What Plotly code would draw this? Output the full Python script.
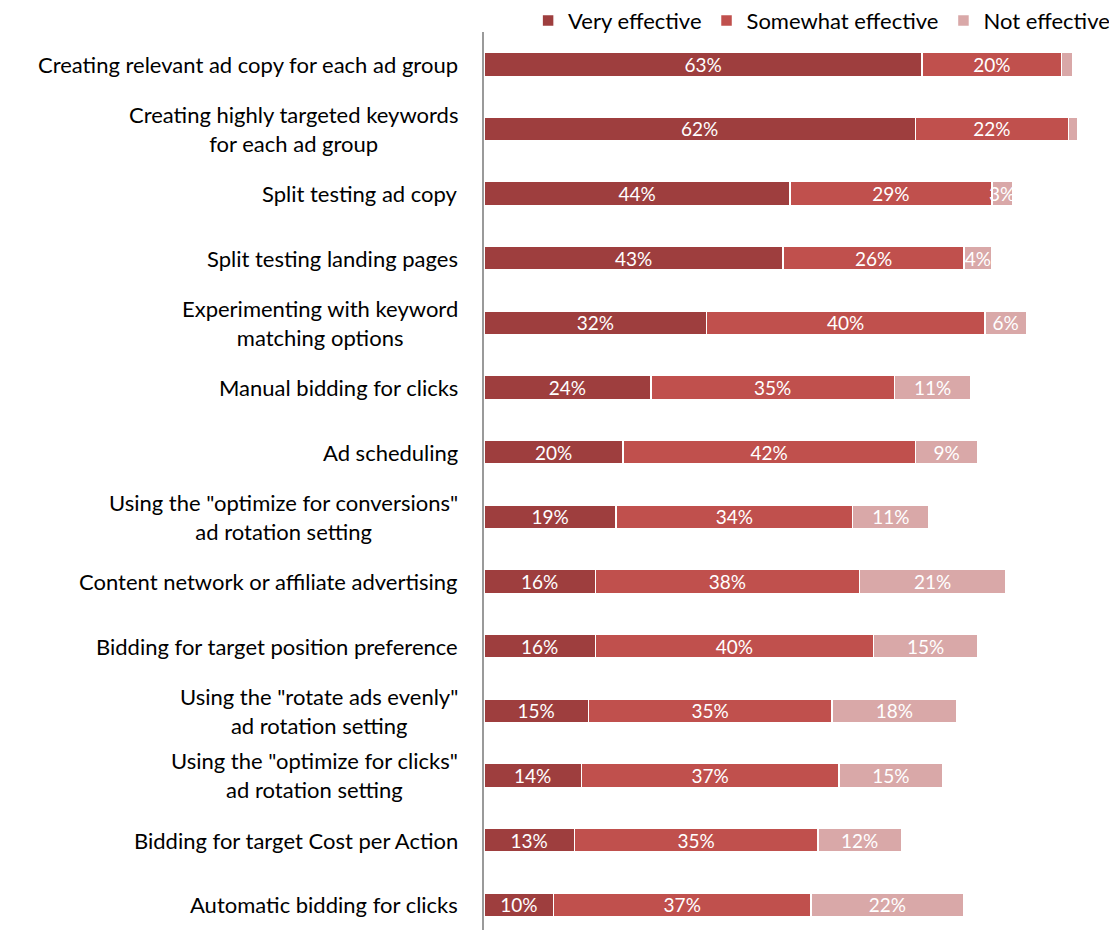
import plotly.graph_objects as go

categories = [
    "Creating relevant ad copy for each ad group",
    "Creating highly targeted keywords<br>for each ad group",
    "Split testing ad copy",
    "Split testing landing pages",
    "Experimenting with keyword<br>matching options",
    "Manual bidding for clicks",
    "Ad scheduling",
    "Using the \"optimize for conversions\"<br>ad rotation setting",
    "Content network or affiliate advertising",
    "Bidding for target position preference",
    "Using the \"rotate ads evenly\"<br>ad rotation setting",
    "Using the \"optimize for clicks\"<br>ad rotation setting",
    "Bidding for target Cost per Action",
    "Automatic bidding for clicks",
]
very_effective = [63, 62, 44, 43, 32, 24, 20, 19, 16, 16, 15, 14, 13, 10]
somewhat_effective = [20, 22, 29, 26, 40, 35, 42, 34, 38, 40, 35, 37, 35, 37]
not_effective = [1.6, 1.3, 3, 4, 6, 11, 9, 11, 21, 15, 18, 15, 12, 22]
not_effective_labels = ["", "", "3%", "4%", "6%", "11%", "9%", "11%", "21%", "15%", "18%", "15%", "12%", "22%"]

series = [
    ("Very effective", very_effective, [f"{v}%" for v in very_effective], "#9E3E3E"),
    ("Somewhat effective", somewhat_effective, [f"{v}%" for v in somewhat_effective], "#C0504D"),
    ("Not effective", not_effective, not_effective_labels, "#D9A8A8"),
]

FONT = "Lato, Carlito, Calibri, sans-serif"

fig = go.Figure()
for name, vals, labels, color in series:
    fig.add_trace(go.Bar(
        y=categories, x=vals, name=name, orientation="h",
        marker=dict(color=color, line=dict(color="white", width=1.5)),
        text=labels, textposition="inside", insidetextanchor="middle",
        constraintext="none", textangle=0,
        textfont=dict(color="white", size=19, family=FONT),
        width=0.37,
    ))

for c in categories:
    fig.add_annotation(
        x=0, xref="paper", y=c, yref="y", text=c, showarrow=False,
        xanchor="right", yanchor="middle", align="center", xshift=-24,
        font=dict(size=22, family=FONT, color="#000000"),
    )

# the page body adds an 8px margin, so the figure is sized to fit the window
fig.update_layout(
    barmode="stack",
    width=1109, height=922,
    margin=dict(l=476, r=0, t=24, b=0, autoexpand=False),
    plot_bgcolor="white", paper_bgcolor="white",
    font=dict(family=FONT, size=20, color="#000000"),
    legend=dict(orientation="h", x=0.997, xanchor="right", y=1.036, yanchor="top",
                font=dict(size=22, family=FONT), traceorder="normal",
                itemwidth=30, bgcolor="rgba(0,0,0,0)"),
    showlegend=True,
)
fig.update_xaxes(range=[0, 91], showgrid=False, zeroline=False, showticklabels=False,
                 showline=False, ticks="")
fig.update_yaxes(range=[13.39, -0.5], showgrid=False, zeroline=False, showticklabels=False,
                 showline=True, linecolor="#9A9A9A", linewidth=2, ticks="")

fig.write_html("out.html")
